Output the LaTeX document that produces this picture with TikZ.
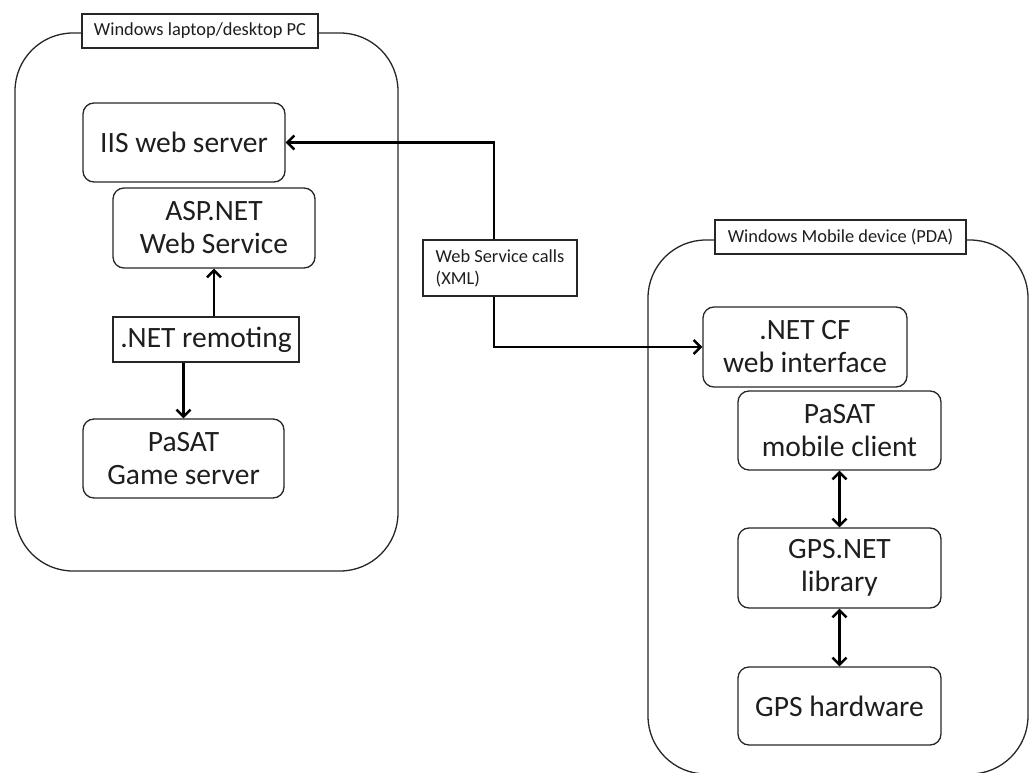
\documentclass[tikz,border=0pt]{standalone}
\usepackage{fontspec}
\setmainfont{Carlito}
\usetikzlibrary{arrows.meta}
\definecolor{txt}{HTML}{1E1E1E}
\tikzset{
  every node/.style={text=txt},
  outer/.style={draw=black!85, line width=1.3pt, rounded corners=58pt, inner sep=0pt},
  title/.style={draw=black!85, fill=white, line width=1.3pt, inner sep=0pt, font=\fontsize{18.4}{22}\selectfont},
  comp/.style={draw=black!85, line width=1.3pt, rounded corners=11pt, inner sep=0pt, align=center, font=\fontsize{29.5}{33}\selectfont},
  lbl/.style={draw=black!85, fill=white, line width=1.3pt, inner sep=0pt, align=center, font=\fontsize{29.5}{33}\selectfont},
  tip/.style={Straight Barb[length=7pt,width=14pt,line width=2.4pt]},
  arr/.style={draw=black, line width=2.8pt, -{Straight Barb[length=7pt,width=14pt,line width=2.4pt]}},
  darr/.style={draw=black, line width=2.8pt, {Straight Barb[length=7pt,width=14pt,line width=2.4pt]}-{Straight Barb[length=7pt,width=14pt,line width=2.4pt]}},
}
\begin{document}
\begin{tikzpicture}[x=1pt,y=-1pt]
\useasboundingbox (0,0) rectangle (1029,773);
% left machine
\node[outer, minimum width=383pt, minimum height=538pt] (left) at (206.5,302) {};
\node[title, minimum width=236pt, minimum height=34pt] (ltitle) at (200,31) {Windows laptop/desktop PC};
\node[comp, minimum width=202pt, minimum height=79pt] (iis) at (184,142.5) {IIS web server};
\node[comp, minimum width=202pt, minimum height=80pt] (asp) at (214,228) {ASP.NET\\Web Service};
\node[lbl, minimum width=186pt, minimum height=45pt] (rem) at (206,339.5) {.NET remoting};
\node[comp, minimum width=201pt, minimum height=79pt] (game) at (183.5,458.5) {PaSAT\\Game server};
% right device
\node[outer, minimum width=380pt, minimum height=534pt] (right) at (838,507) {};
\node[title, minimum width=251pt, minimum height=34pt] (rtitle) at (840.5,237) {Windows Mobile device (PDA)};
\node[comp, minimum width=204pt, minimum height=80pt] (cf) at (805,347) {.NET CF\\web interface};
\node[comp, minimum width=203pt, minimum height=79pt] (mob) at (839.5,430.5) {PaSAT\\mobile client};
\node[comp, minimum width=203pt, minimum height=80pt] (gpsnet) at (839.5,568) {GPS.NET\\library};
\node[comp, minimum width=203pt, minimum height=78pt] (gpshw) at (839.5,706) {GPS hardware};
% web service label
\node[draw=black!85, fill=white, line width=1.3pt, inner xsep=12pt, inner ysep=0pt, align=left, minimum width=154pt, minimum height=56pt, font=\fontsize{18.4}{22}\selectfont] (wsc) at (500,268) {Web Service calls\\(XML)};
% connectors
\draw[arr] ([xshift=-6pt]wsc.north) |- (iis.east);
\draw[arr] ([xshift=-6pt]wsc.south) |- (cf.west);
\draw[arr] (rem.north -| asp.south) -- (asp.south);
\draw[arr] (rem.south -| game.north) -- (game.north);
\draw[darr] (mob.south) -- (gpsnet.north);
\draw[darr] (gpsnet.south) -- (gpshw.north);
\end{tikzpicture}
\end{document}
